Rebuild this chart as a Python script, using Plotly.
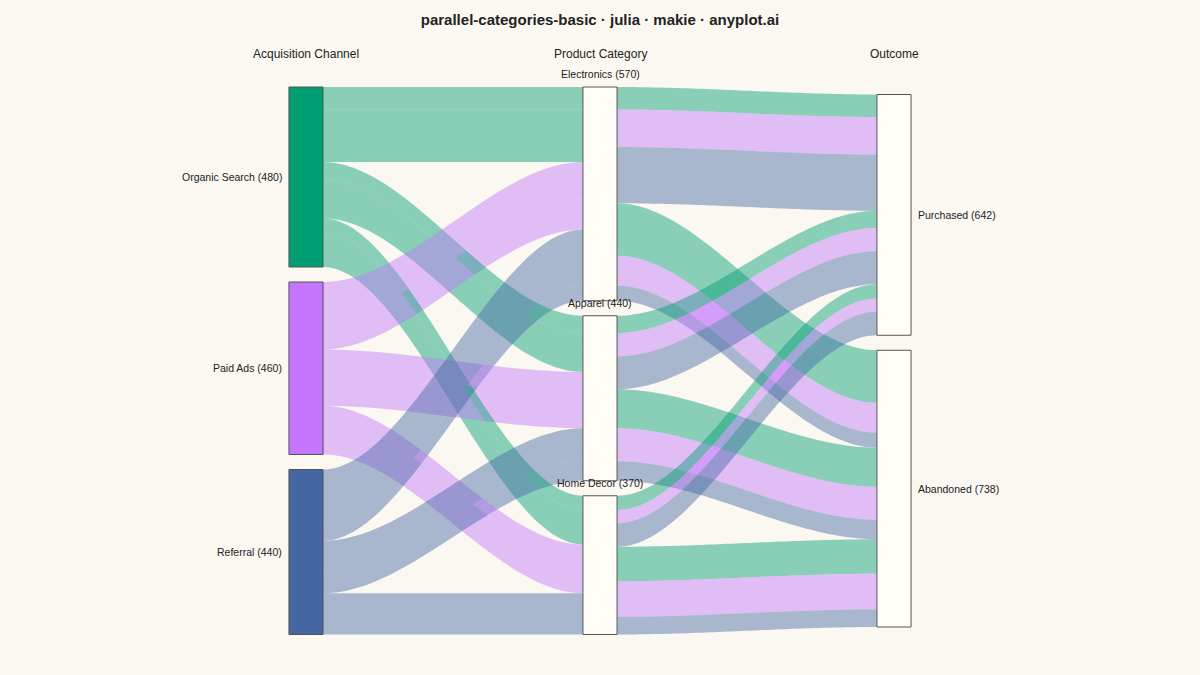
import numpy as np
import plotly.graph_objects as go

# data: purchased / abandoned counts per product category, one list per channel
channels = ["Organic Search", "Paid Ads", "Referral"]
categories = ["Electronics", "Apparel", "Home Decor"]
outcomes = ["Purchased", "Abandoned"]
dim_titles = ["Acquisition Channel", "Product Category", "Outcome"]
organic = [[60, 140], [46, 104], [38, 92]]
paid = [[100, 80], [62, 88], [35, 95]]
referral = [[150, 40], [88, 52], [63, 47]]

channel_colors = ["#009E73", "#C475FD", "#4467A3"]
band_colors = ["rgba(0,158,115,0.45)", "rgba(196,117,253,0.45)", "rgba(68,103,163,0.45)"]
BG = "#FAF8F1"; NODE_FILL = "#FFFDF6"; EDGE = "#555555"; TXT = "#222222"
FONT = "Liberation Sans, Arial, sans-serif"

counts = np.array([organic, paid, referral])  # [channel, category, outcome]
nc, nk, no = counts.shape
GAP = 40      # gap between stacked nodes, in count units
HALF = 0.058  # half width of a node bar, in axis units

ch_tot = counts.sum(axis=(1, 2)); cat_tot = counts.sum(axis=(0, 2)); out_tot = counts.sum(axis=(0, 1))
span = max(t.sum() + GAP*(len(t)-1) for t in [ch_tot, cat_tot, out_tot])

def stack_nodes(totals):
    tops = []; y = (span - (totals.sum() + GAP*(len(totals)-1))) / 2
    for t in totals:
        tops.append(y); y += t + GAP
    return np.array(tops, dtype=float)

ch_top = stack_nodes(ch_tot); cat_top = stack_nodes(cat_tot); out_top = stack_nodes(out_tot)

# where each path (channel, category, outcome) sits on every node side
left = {}; cur = ch_top.copy()
for c in range(nc):
    for k in range(nk):
        for o in range(no):
            left[c, k, o] = cur[c]; cur[c] += counts[c, k, o]
mid_in = {}; cur = cat_top.copy()
for k in range(nk):
    for c in range(nc):
        for o in range(no):
            mid_in[c, k, o] = cur[k]; cur[k] += counts[c, k, o]
mid_out = {}; cur = cat_top.copy()
for k in range(nk):
    for o in range(no):
        for c in range(nc):
            mid_out[c, k, o] = cur[k]; cur[k] += counts[c, k, o]
right = {}; cur = out_top.copy()
for o in range(no):
    for k in range(nk):
        for c in range(nc):
            right[c, k, o] = cur[o]; cur[o] += counts[c, k, o]

def ribbon(x0, x1, y0, y1, h):
    t = np.linspace(0, 1, 60); s = t*t*(3 - 2*t)
    x = x0 + (x1 - x0)*t; top = y0 + (y1 - y0)*s
    return np.concatenate([x, x[::-1]]), np.concatenate([top, (top + h)[::-1]])

fig = go.Figure()
for o in reversed(range(no)):
    for c in range(nc):
        for k in range(nk):
            h = counts[c, k, o]
            for x0, x1, y0, y1 in [(0 + HALF, 1 - HALF, left[c, k, o], mid_in[c, k, o]),
                                   (1 + HALF, 2 - HALF, mid_out[c, k, o], right[c, k, o])]:
                xs, ys = ribbon(x0, x1, y0, y1, h)
                fig.add_trace(go.Scatter(x=xs, y=ys, fill="toself", fillcolor=band_colors[c], mode="none",
                                         hoverinfo="skip", showlegend=False))

def bar(col, top, h, fill):
    fig.add_trace(go.Scatter(x=[col-HALF, col+HALF, col+HALF, col-HALF, col-HALF], y=[top, top, top+h, top+h, top],
                             fill="toself", fillcolor=fill, mode="lines", line=dict(color=EDGE, width=1),
                             hoverinfo="skip", showlegend=False))

ann = []
for i, name in enumerate(channels):
    bar(0, ch_top[i], ch_tot[i], channel_colors[i])
    ann.append(dict(x=0, y=ch_top[i] + ch_tot[i]/2, text=f"{name} ({ch_tot[i]})", xanchor="right", xshift=-22))
for i, name in enumerate(categories):
    bar(1, cat_top[i], cat_tot[i], NODE_FILL)
    ann.append(dict(x=1, y=cat_top[i], text=f"{name} ({cat_tot[i]})", xanchor="center", yshift=13))
for i, name in enumerate(outcomes):
    bar(2, out_top[i], out_tot[i], NODE_FILL)
    ann.append(dict(x=2, y=out_top[i] + out_tot[i]/2, text=f"{name} ({out_tot[i]})", xanchor="left", xshift=22))
for a in ann:
    a.update(yanchor="middle", showarrow=False, font=dict(size=10.5, color=TXT, family=FONT))
for i, t in enumerate(dim_titles):
    ann.append(dict(x=i, y=0, text=t, xanchor="center", yanchor="middle", yshift=33, showarrow=False,
                    font=dict(size=12, color=TXT, family=FONT)))

W, H = 1200, 675
px_x = 294; x_left = 306          # pixels per column step, pixel of first column
px_y = 547.5/span; y_top = 87     # pixels per count unit, pixel of node tops
fig.update_layout(
    width=W, height=H, margin=dict(l=0, r=0, t=0, b=0),
    paper_bgcolor=BG, plot_bgcolor=BG, annotations=ann,
    title=dict(text="parallel-categories-basic · julia · makie · anyplot.ai", x=0.5, xanchor="center",
               y=1 - 20/H, yanchor="middle", font=dict(size=15, color=TXT, family=FONT, weight="bold")),
    xaxis=dict(range=[-x_left/px_x, (W - x_left)/px_x], visible=False, fixedrange=True),
    yaxis=dict(range=[(H - y_top)/px_y, -y_top/px_y], visible=False, fixedrange=True),
)
fig.write_html("out.html", config={"displayModeBar": False},
               post_script="document.body.style.margin='0';document.body.style.background='%s';" % BG)
